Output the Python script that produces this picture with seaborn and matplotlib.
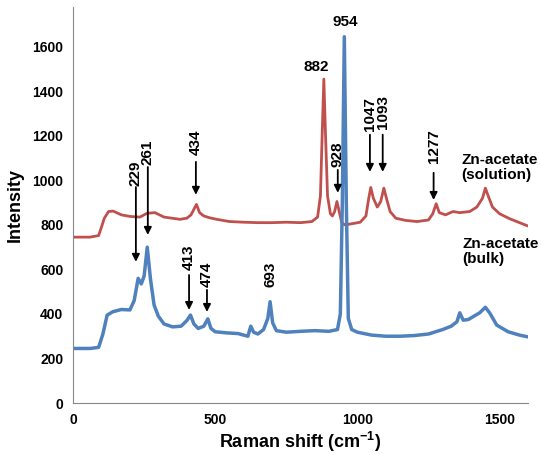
import matplotlib
matplotlib.use("Agg")
import matplotlib.pyplot as plt
import seaborn as sns
import pandas as pd

# ---- data ----
bulk_x = [0, 60, 90, 105, 120, 140, 170, 200, 215, 229, 240, 250, 261, 272, 285, 300, 320,
          350, 380, 400, 413, 425, 440, 460, 474, 485, 500, 540, 580, 600, 615, 625, 635,
          650, 670, 685, 693, 702, 715, 750, 800, 850, 900, 930, 940, 947, 954, 961, 968,
          980, 1000, 1050, 1100, 1150, 1200, 1250, 1300, 1330, 1350, 1360, 1372, 1390,
          1410, 1430, 1450, 1465, 1490, 1530, 1570, 1600]
bulk_y = [245, 245, 250, 310, 395, 410, 420, 418, 460, 560, 535, 570, 700, 560, 440, 390, 355,
          342, 345, 370, 395, 355, 335, 345, 378, 335, 320, 315, 312, 305, 300, 345, 318,
          310, 330, 380, 455, 360, 325, 318, 322, 325, 322, 330, 400, 900, 1645, 900, 380,
          330, 318, 305, 300, 300, 303, 310, 330, 345, 365, 405, 372, 375, 390, 405, 430,
          405, 350, 320, 305, 297]

sol_x = [0, 60, 90, 100, 110, 125, 141, 170, 200, 235, 260, 288, 320, 376, 400, 415, 425,
         434, 445, 460, 480, 505, 550, 600, 650, 700, 750, 800, 840, 860, 870, 876, 882,
         888, 895, 905, 912, 920, 928, 936, 945, 956, 980, 1010, 1030, 1040, 1047, 1056,
         1070, 1082, 1093, 1102, 1115, 1135, 1170, 1210, 1250, 1265, 1277, 1288, 1310,
         1336, 1360, 1395, 1420, 1440, 1450, 1460, 1475, 1500, 1535, 1570, 1600]
sol_y = [745, 745, 752, 790, 830, 860, 862, 845, 838, 835, 852, 855, 835, 825, 830, 845, 870,
         892, 855, 840, 832, 825, 815, 812, 810, 810, 812, 810, 815, 835, 930, 1200, 1455,
         1200, 930, 850, 840, 860, 905, 860, 810, 800, 805, 812, 840, 920, 968, 920,
         880, 905, 965, 920, 860, 830, 820, 815, 822, 850, 895, 855, 845,
         860, 855, 860, 880, 920, 965, 930, 880, 850, 828, 810, 795]

# arrow annotations: label, x, arrow top, arrow tip, label bottom
arrow_labels = ["229", "261", "434", "413", "474", "928", "1047", "1093", "1277"]
arrow_x      = [221, 263, 432, 408, 471, 931, 1044, 1089, 1268]
arrow_top    = [970, 1060, 1083, 575, 508, 1047, 1205, 1205, 1034]
arrow_tip    = [634, 755, 935, 418, 409, 944, 1038, 1038, 912]
label_base   = [975, 1068, 1112, 598, 521, 1060, 1220, 1232, 1078]

x_ticks = [0, 500, 1000, 1500]
y_ticks = [0, 200, 400, 600, 800, 1000, 1200, 1400, 1600]

BLUE = "#4F81BD"
RED = "#C0504D"

sns.set_theme(style="white")
plt.rcParams['font.family'] = ['Liberation Sans', 'DejaVu Sans']
plt.rcParams['text.color'] = 'black'
plt.rcParams['axes.labelcolor'] = 'black'
plt.rcParams['mathtext.fontset'] = 'custom'
plt.rcParams['mathtext.bf'] = 'Liberation Sans:bold'
plt.rcParams['mathtext.rm'] = 'Liberation Sans:bold'
plt.rcParams['mathtext.default'] = 'bf'

fig = plt.figure(figsize=(5.41, 4.54), dpi=100)
ax = fig.add_axes([0.135, 0.1123, 0.841, 0.873])

df_b = pd.DataFrame({"x": bulk_x, "y": bulk_y})
df_s = pd.DataFrame({"x": sol_x, "y": sol_y})
sns.lineplot(data=df_s, x="x", y="y", ax=ax, color=RED, lw=2.0, sort=False)
sns.lineplot(data=df_b, x="x", y="y", ax=ax, color=BLUE, lw=2.5, sort=False)

ax.set_xlim(0, 1600)
ax.set_ylim(0, 1780)
ax.set_xticks(x_ticks)
ax.set_yticks(y_ticks)
ax.set_xticklabels([str(t) for t in x_ticks], fontsize=10, fontweight='bold')
ax.set_yticklabels([str(t) for t in y_ticks], fontsize=10, fontweight='bold')
ax.tick_params(axis='both', direction='out', length=4, width=0.8, color='#888888',
               labelcolor='black', pad=3)
for s in ['top', 'right']:
    ax.spines[s].set_visible(False)
for s in ['left', 'bottom']:
    ax.spines[s].set_color('#888888')
    ax.spines[s].set_linewidth(0.8)

ax.set_xlabel("Raman shift (cm$^{-1}$)", fontsize=13, fontweight='bold', labelpad=2)
ax.set_ylabel("Intensity", fontsize=13, fontweight='bold', labelpad=6)

for lab, x, top, tip, base in zip(arrow_labels, arrow_x, arrow_top, arrow_tip, label_base):
    ax.annotate('', xy=(x, tip), xytext=(x, top),
                arrowprops=dict(arrowstyle='-|>', color='black', lw=1.3, mutation_scale=11,
                                shrinkA=0, shrinkB=0))
    ax.text(x, base, lab, rotation=90, ha='center', va='bottom', fontsize=11, fontweight='bold')

ax.text(693, 521, "693", rotation=90, ha='center', va='bottom', fontsize=11, fontweight='bold')
ax.text(854, 1510, "882", ha='center', va='center', fontsize=11, fontweight='bold')
ax.text(956, 1712, "954", ha='center', va='center', fontsize=11, fontweight='bold')
ax.text(1366, 1056, "Zn-acetate\n(solution)", ha='left', va='center', fontsize=11,
        fontweight='bold', linespacing=1.1)
ax.text(1368, 679, "Zn-acetate\n(bulk)", ha='left', va='center', fontsize=11,
        fontweight='bold', linespacing=1.1)

fig.savefig("out.png", dpi=100)
